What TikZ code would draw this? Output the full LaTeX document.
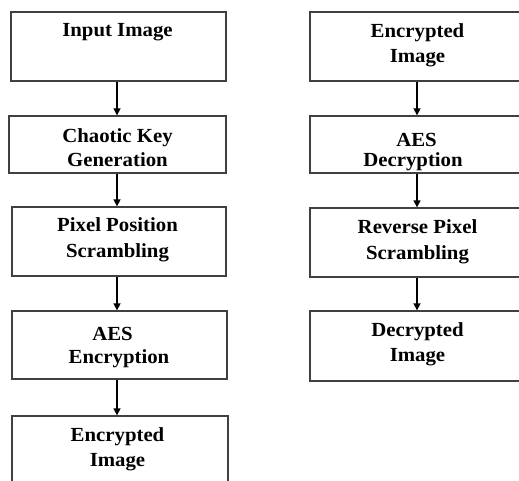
\documentclass[tikz,border=0pt]{standalone}
\usepackage{fontspec}
\setmainfont{Liberation Serif}[FakeStretch=1.04]
\usetikzlibrary{arrows.meta,fit}

\tikzset{
  stagebox/.style={draw=black!75, line width=1.3pt, inner sep=0pt},
  stagetext/.style={anchor=north, inner sep=0pt, align=center,
    font=\fontsize{20}{25}\selectfont\bfseries},
  flow/.style={draw=black, line width=1.5pt,
    -{Triangle[length=7pt,width=7pt]}}
}

\begin{document}
\begin{tikzpicture}[x=1pt,y=-1pt]
  \useasboundingbox (0,0) rectangle (519,481);
  \clip (0,0) rectangle (519,481);
  \fill[white] (0,0) rectangle (519,481);

  % arrow columns
  \coordinate (colL) at (117,0);
  \coordinate (colR) at (417,0);

  % encryption pipeline
  \node[stagebox, fit={(11,12) (226,81)}]  (l1) {};
  \node[stagebox, fit={(9,116) (226,173)}] (l2) {};
  \node[stagebox, fit={(12,207) (226,276)}] (l3) {};
  \node[stagebox, fit={(12,311) (227,379)}] (l4) {};
  \node[stagebox, fit={(12,416) (228,510)}] (l5) {};

  \node[stagetext] (tl1) at (117.5,23)  {Input Image};
  \node[stagetext] (tl2) at (117.5,128) {Chaotic Key\\[-1pt]Generation};
  \node[stagetext] (tl3) at (117.5,217) {Pixel Position\\[1pt]Scrambling};
  \node[stagetext] (tl4) at (119,327)   {AES\kern13pt\\[-2pt]Encryption};
  \node[stagetext] (tl5) at (117.5,427) {Encrypted\\Image};

  % decryption pipeline
  \node[stagebox, fit={(310,12) (524,81)}]  (r1) {};
  \node[stagebox, fit={(310,116) (524,173)}] (r2) {};
  \node[stagebox, fit={(310,208) (524,277)}] (r3) {};
  \node[stagebox, fit={(310,311) (524,381)}] (r4) {};

  \node[stagetext] (tr1) at (417.5,23)  {Encrypted\\Image};
  \node[stagetext] (tr2) at (413,133)   {\kern7pt AES\\[-5pt]Decryption};
  \node[stagetext] (tr3) at (417.5,219) {Reverse Pixel\\[1pt]Scrambling};
  \node[stagetext] (tr4) at (417.5,322) {Decrypted\\Image};

  % connectors
  \draw[flow] (l1.south -| colL) -- (l2.north -| colL);
  \draw[flow] (l2.south -| colL) -- (l3.north -| colL);
  \draw[flow] (l3.south -| colL) -- (l4.north -| colL);
  \draw[flow] (l4.south -| colL) -- (l5.north -| colL);

  \draw[flow] (r1.south -| colR) -- (r2.north -| colR);
  \draw[flow] (r2.south -| colR) -- (r3.north -| colR);
  \draw[flow] (r3.south -| colR) -- (r4.north -| colR);
\end{tikzpicture}
\end{document}
